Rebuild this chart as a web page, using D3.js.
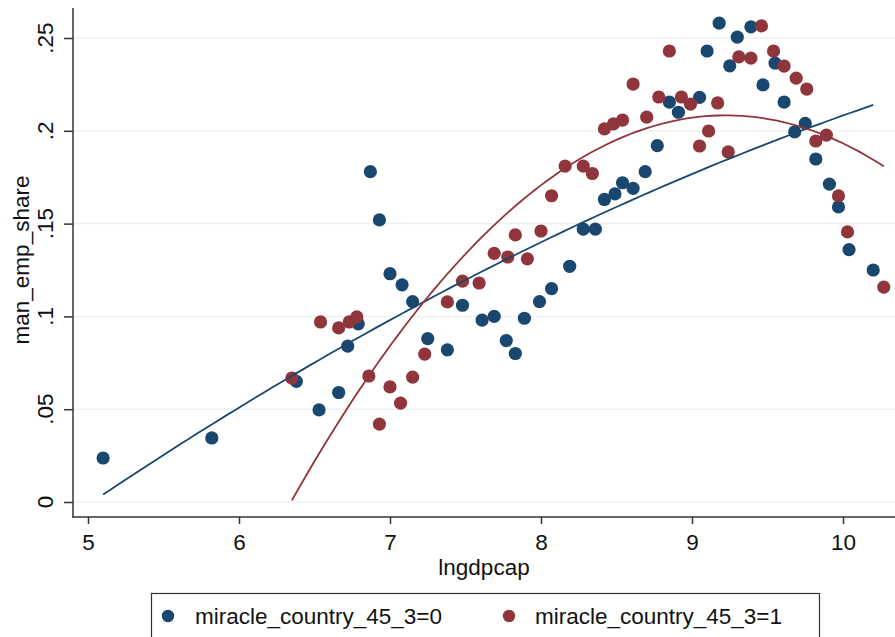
<!DOCTYPE html>
<html>
<head>
<meta charset="utf-8">
<script src="https://cdn.jsdelivr.net/npm/d3@7"></script>
<style>
  body { margin: 0; background: #fff; }
  svg { display: block; font-family: "Liberation Sans", Arial, Helvetica, sans-serif; }
</style>
</head>
<body>
<div id="chart"></div>
<script>
// lngdpcap / man_emp_share, miracle_country_45_3 = 0
const blueX = [5.10, 5.82, 6.38, 6.53, 6.66, 6.72, 6.79, 6.87, 6.93, 7.00, 7.08, 7.15, 7.25, 7.38,
    7.48, 7.61, 7.69, 7.77, 7.83, 7.89, 7.99, 8.07, 8.19, 8.28, 8.36, 8.42, 8.49, 8.54, 8.61,
    8.69, 8.77, 8.85, 8.91, 9.05, 9.10, 9.18, 9.25, 9.30, 9.39, 9.47, 9.55, 9.61, 9.68, 9.75,
    9.82, 9.91, 9.97, 10.04, 10.20];
const blueY = [0.0237, 0.0345, 0.065, 0.0496, 0.059, 0.084, 0.096, 0.178, 0.152, 0.123, 0.117, 0.108, 0.088, 0.082,
    0.106, 0.098, 0.100, 0.087, 0.080, 0.099, 0.108, 0.115, 0.127, 0.147, 0.147, 0.163, 0.166, 0.172, 0.169,
    0.178, 0.192, 0.2155, 0.210, 0.218, 0.243, 0.258, 0.235, 0.2505, 0.256, 0.2247, 0.2365, 0.2155, 0.1994, 0.204,
    0.1848, 0.1713, 0.159, 0.136, 0.125];

// miracle_country_45_3 = 1
const redX = [6.35, 6.54, 6.66, 6.73, 6.78, 6.86, 6.93, 7.00, 7.07, 7.15, 7.23, 7.38, 7.48, 7.59,
    7.69, 7.78, 7.83, 7.91, 8.00, 8.07, 8.16, 8.28, 8.34, 8.42, 8.48, 8.54, 8.61, 8.70, 8.78,
    8.85, 8.93, 8.99, 9.05, 9.11, 9.17, 9.24, 9.31, 9.39, 9.46, 9.54, 9.61, 9.69, 9.76, 9.82,
    9.89, 9.97, 10.03, 10.27];
const redY = [0.0668, 0.097, 0.0938, 0.097, 0.0997, 0.0679, 0.042, 0.062, 0.0533, 0.0673, 0.0797, 0.1078, 0.119, 0.118,
    0.134, 0.132, 0.1439, 0.131, 0.146, 0.165, 0.181, 0.181, 0.177, 0.201, 0.2037, 0.2058, 0.2252, 0.2074, 0.2182,
    0.243, 0.2182, 0.2144, 0.1918, 0.1999, 0.215, 0.1886, 0.2398, 0.2392, 0.2565, 0.243, 0.2349, 0.2284, 0.2225, 0.1945,
    0.1977, 0.1649, 0.1455, 0.1158];

// quadratic fit lines (qfit): [const, x, x^2]
const blueFit = [-0.34137, 0.080991, -0.002603];
const redFit = [-1.92807, 0.46319, -0.025106];

const xTicks = [5, 6, 7, 8, 9, 10];
const yTicks = [0, 0.05, 0.1, 0.15, 0.2, 0.25];
const yTickLabels = ["0", ".05", ".1", ".15", ".2", ".25"];
const legendLabels = ["miracle_country_45_3=0", "miracle_country_45_3=1"];

const navy = "#1a476f";
const maroon = "#90353b";

const W = 895, H = 637;
const plot = { left: 73, right: 895, top: 8, bottom: 517 };

const x = d3.scaleLinear().domain([5, 10]).range([88, 843]);
const y = d3.scaleLinear().domain([0, 0.25]).range([502, 38]);

// evaluate a fit over the data range of its group
function fitPoints(coef, xs) {
    const [lo, hi] = d3.extent(xs);
    return d3.range(101).map(i => {
        const xv = lo + (hi - lo) * i / 100;
        return [xv, coef[0] + coef[1] * xv + coef[2] * xv * xv];
    });
}

const svg = d3.select("#chart").append("svg")
    .attr("width", W)
    .attr("height", H);

// grid
svg.append("g")
    .selectAll("line")
    .data(yTicks)
    .enter()
    .append("line")
    .attr("x1", plot.left)
    .attr("x2", plot.right)
    .attr("y1", d => y(d))
    .attr("y2", d => y(d))
    .attr("stroke", "#eaf2f3")
    .attr("stroke-width", 1.5);

// scatter
const series = [
    { xs: blueX, ys: blueY, fit: blueFit, color: navy },
    { xs: redX, ys: redY, fit: redFit, color: maroon }
];

series.forEach(s => {
    svg.append("g")
        .selectAll("circle")
        .data(s.xs.map((d, i) => [d, s.ys[i]]))
        .enter()
        .append("circle")
        .attr("cx", d => x(d[0]))
        .attr("cy", d => y(d[1]))
        .attr("r", 6.6)
        .attr("fill", s.color);
});

const line = d3.line().x(d => x(d[0])).y(d => y(d[1]));
series.forEach(s => {
    svg.append("path")
        .datum(fitPoints(s.fit, s.xs))
        .attr("d", line)
        .attr("fill", "none")
        .attr("stroke", s.color)
        .attr("stroke-width", 1.8);
});

// axes
const xAxis = svg.append("g")
    .attr("transform", `translate(0,${plot.bottom})`)
    .call(d3.axisBottom(x).tickValues(xTicks).tickSize(7).tickPadding(10).tickFormat(d3.format("d")));
xAxis.select(".domain").remove();
xAxis.selectAll("line").attr("stroke", "#333").attr("stroke-width", 1.5);
xAxis.selectAll("text").attr("font-size", 22.5).attr("fill", "#111").attr("font-family", null);

svg.append("line")
    .attr("x1", plot.left - 0.75).attr("x2", plot.right)
    .attr("y1", plot.bottom).attr("y2", plot.bottom)
    .attr("stroke", "#333").attr("stroke-width", 1.5);

const yAxis = svg.append("g")
    .attr("transform", `translate(${plot.left},0)`)
    .call(d3.axisLeft(y).tickValues(yTicks).tickSize(9).tickFormat(""));
yAxis.select(".domain").remove();
yAxis.selectAll("line").attr("stroke", "#333").attr("stroke-width", 1.5);

svg.append("line")
    .attr("x1", plot.left).attr("x2", plot.left)
    .attr("y1", plot.top).attr("y2", plot.bottom + 0.75)
    .attr("stroke", "#333").attr("stroke-width", 1.5);

svg.append("g")
    .selectAll("text")
    .data(yTicks)
    .enter()
    .append("text")
    .attr("transform", d => `translate(53,${y(d)})rotate(-90)`)
    .attr("text-anchor", "middle")
    .attr("font-size", 22.5)
    .attr("fill", "#111")
    .text((d, i) => yTickLabels[i]);

// axis titles
svg.append("text")
    .attr("x", (plot.left + plot.right) / 2)
    .attr("y", 575)
    .attr("text-anchor", "middle")
    .attr("font-size", 22.5)
    .attr("fill", "#111")
    .text("lngdpcap");

svg.append("text")
    .attr("transform", `translate(29,260)rotate(-90)`)
    .attr("text-anchor", "middle")
    .attr("font-size", 22.5)
    .attr("fill", "#111")
    .text("man_emp_share");

// legend
const legend = svg.append("g");
legend.append("rect")
    .attr("x", 151.5).attr("y", 593.5)
    .attr("width", 668).attr("height", 60)
    .attr("fill", "#fff")
    .attr("stroke", "#333")
    .attr("stroke-width", 1.2);

const legendItems = [
    { label: legendLabels[0], color: navy, mx: 168, tx: 195 },
    { label: legendLabels[1], color: maroon, mx: 509, tx: 535 }
];
legendItems.forEach(item => {
    legend.append("circle")
        .attr("cx", item.mx).attr("cy", 616)
        .attr("r", 6.2)
        .attr("fill", item.color);
    legend.append("text")
        .attr("x", item.tx).attr("y", 624)
        .attr("font-size", 22.5)
        .attr("fill", "#111")
        .text(item.label);
});
</script>
</body>
</html>
